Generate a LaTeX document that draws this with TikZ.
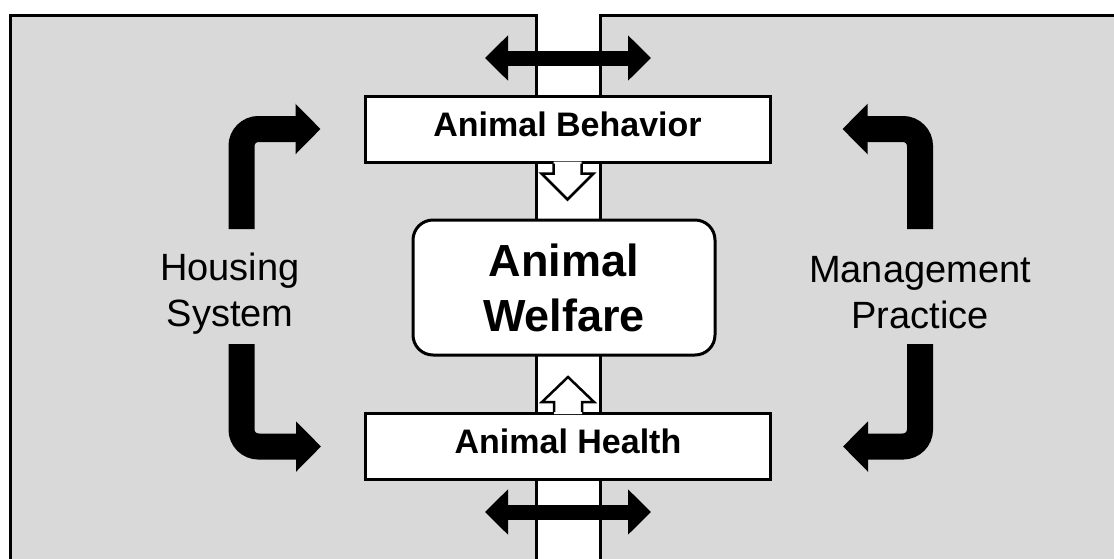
\documentclass[tikz,border=0pt]{standalone}
\usepackage{fontspec}
\setmainfont{Liberation Sans}
\usetikzlibrary{arrows.meta,positioning}
\definecolor{panelgray}{HTML}{D9D9D9}
\tikzset{
  panel/.style={fill=panelgray,draw=black,line width=3pt},
  factorbox/.style={draw=black,fill=white,line width=3pt,minimum width=405pt,
    minimum height=66pt,inner sep=0pt,text height=24pt,text depth=10pt,
    font=\fontsize{34}{40}\selectfont\bfseries},
  welfarebox/.style={draw=black,fill=white,line width=3pt,rounded corners=20pt,
    minimum width=302pt,minimum height=135pt,align=center,inner sep=0pt,
    font=\fontsize{45}{55}\selectfont\bfseries},
  sidelabel/.style={align=center,inner sep=0pt,font=\fontsize{38}{46}\selectfont},
  bentarrow/.style={line width=26pt,rounded corners=17pt,
    -{Triangle[length=25pt,width=49pt]}},
  swaparrow/.style={line width=15pt,
    {Triangle[length=23pt,width=44pt]}-{Triangle[length=23pt,width=44pt]}},
  hollow/.style={draw=black,line width=2.5pt,line join=miter}
}
\begin{document}
\begin{tikzpicture}[x=1pt,y=-1pt]
\useasboundingbox (0,0) rectangle (1114,558);
% the two panels and the strip between them
\draw[panel] (10,15) rectangle (536,600);
\draw[panel] (600,15) rectangle (1140,600);
% boxes
\node[factorbox] (behav) at (567.5,129) {Animal Behavior};
\node[welfarebox] (welfare) at (564,287.5) {Animal\\Welfare};
\node[factorbox] (health) at (568,446.5) {Animal Health};
\node[sidelabel] (housing) at (230,294) {Housing\\System};
\node[sidelabel] (mgmt) at (920,293) {Management\\Practice};
% exchange across the strip
\coordinate (topL) at (485,58);
\coordinate (topR) at (651,58);
\coordinate (botL) at (485,512);
\coordinate (botR) at (651,512);
\draw[swaparrow] (topL) -- (topR);
\draw[swaparrow] (botL) -- (botR);
% bent arrows
\coordinate (hsTop) at (241.5,229);
\coordinate (hsBot) at (241.5,344);
\coordinate (mpTop) at (920,229);
\coordinate (mpBot) at (920,344);
\draw[bentarrow] (hsTop) |- ([xshift=-43pt]behav.west);
\draw[bentarrow] (hsBot) |- ([xshift=-43pt]health.west);
\draw[bentarrow] (mpTop) |- ([xshift=71pt]behav.east);
\draw[bentarrow] (mpBot) |- ([xshift=71pt]health.east);
% hollow arrows into the welfare box
\fill[white] (behav.south) +(-14,-2) -- +(-14,10) -- +(-26,10) -- +(0,36)
  -- +(26,10) -- +(14,10) -- +(14,-2) -- cycle;
\draw[hollow] (behav.south) +(-14,0) -- +(-14,10) -- +(-26,10) -- +(0,36)
  -- +(26,10) -- +(14,10) -- +(14,0);
\fill[white] (health.north) +(-14,2) -- +(-14,-10) -- +(-26,-10) -- +(0,-35)
  -- +(26,-10) -- +(14,-10) -- +(14,2) -- cycle;
\draw[hollow] (health.north) +(-14,0) -- +(-14,-10) -- +(-26,-10) -- +(0,-35)
  -- +(26,-10) -- +(14,-10) -- +(14,0);
\end{tikzpicture}
\end{document}
